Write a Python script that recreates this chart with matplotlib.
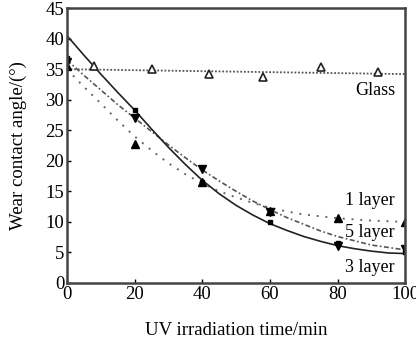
import matplotlib
matplotlib.use("Agg")
import matplotlib.pyplot as plt

plt.rcParams['font.family'] = ['Liberation Serif', 'DejaVu Serif']

# measured points
x_pts = [0, 20, 40, 60, 80, 100]
layer1_pts = [35.5, 22.8, 16.5, 11.8, 10.6, 10.0]
layer5_pts = [36.2, 27.0, 18.6, 11.6, 6.0, 5.5]
layer3_pts = [36.8, 28.3, 16.6, 10.0, 6.5, 5.0]

glass_x = [8, 25, 42, 58, 75, 92]
glass_pts = [35.6, 35.0, 34.2, 33.8, 35.4, 34.5]

# fitted curves
curve_x = [0, 5, 10, 15, 20, 25, 30, 35, 40, 45, 50, 55, 60, 65, 70, 75, 80, 85, 90, 95, 100]
layer3_curve = [40.5, 37.3, 34.2, 31.2, 28.3, 25.2, 22.2, 19.4, 16.8, 14.6, 12.7,
                11.1, 9.7, 8.6, 7.6, 6.8, 6.1, 5.6, 5.2, 4.9, 4.8]
layer5_curve = [36.5, 34.0, 31.6, 29.2, 27.0, 24.8, 22.6, 20.5, 18.5, 16.7, 15.0,
                13.4, 12.0, 10.7, 9.6, 8.5, 7.6, 6.9, 6.2, 5.8, 5.4]
layer1_curve = [35.0, 32.1, 29.4, 26.6, 24.0, 21.7, 19.6, 17.8, 16.3, 15.0, 14.0,
                13.1, 12.3, 11.7, 11.2, 10.9, 10.6, 10.4, 10.2, 10.1, 10.0]
glass_curve_x = [0, 100]
glass_curve = [35.0, 34.2]

labels = ["Glass", "1 layer", "5 layer", "3 layer"]
label_y = [31.5, 13.5, 8.2, 2.6]

fig = plt.figure(figsize=(4.16, 3.40), dpi=100)
ax = fig.add_axes([0.161, 0.168, 0.813, 0.808])

ax.plot(glass_curve_x, glass_curve, linestyle=(0, (1, 1)), color='#555555', lw=1.3)
ax.plot(curve_x, layer1_curve, linestyle=(0, (1, 3.5)), color='#666666', lw=1.4)
ax.plot(curve_x, layer5_curve, linestyle=(0, (3, 1.5, 1, 1.5)), color='#555555', lw=1.2)
ax.plot(curve_x, layer3_curve, linestyle='-', color='#222222', lw=1.2)

ax.plot(glass_x, glass_pts, linestyle='none', marker='^', mfc='white', mec='#222222', mew=1.2, ms=6)
ax.plot(x_pts, layer1_pts, linestyle='none', marker='^', color='black', ms=6)
ax.plot(x_pts, layer5_pts, linestyle='none', marker='v', color='black', ms=6)
ax.plot(x_pts, layer3_pts, linestyle='none', marker='s', color='black', ms=3.5)

for t, yy in zip(labels, label_y):
    ax.text(97, yy, t, ha='right', va='center', fontsize=13)

ax.set_xlim(0, 100)
ax.set_ylim(0, 45)
ax.set_xticks([0, 20, 40, 60, 80, 100])
ax.set_yticks(range(0, 46, 5))
ax.tick_params(direction='in', length=3, width=1, labelsize=13.5, pad=2)
for s in ax.spines.values():
    s.set_linewidth(1.8)
    s.set_color('#444444')

ax.set_xlabel("UV irradiation time/min", fontsize=13.5, labelpad=14)
ax.set_ylabel("Wear contact angle/(°)", fontsize=13.5, labelpad=13)

fig.savefig("out.png", dpi=100)
